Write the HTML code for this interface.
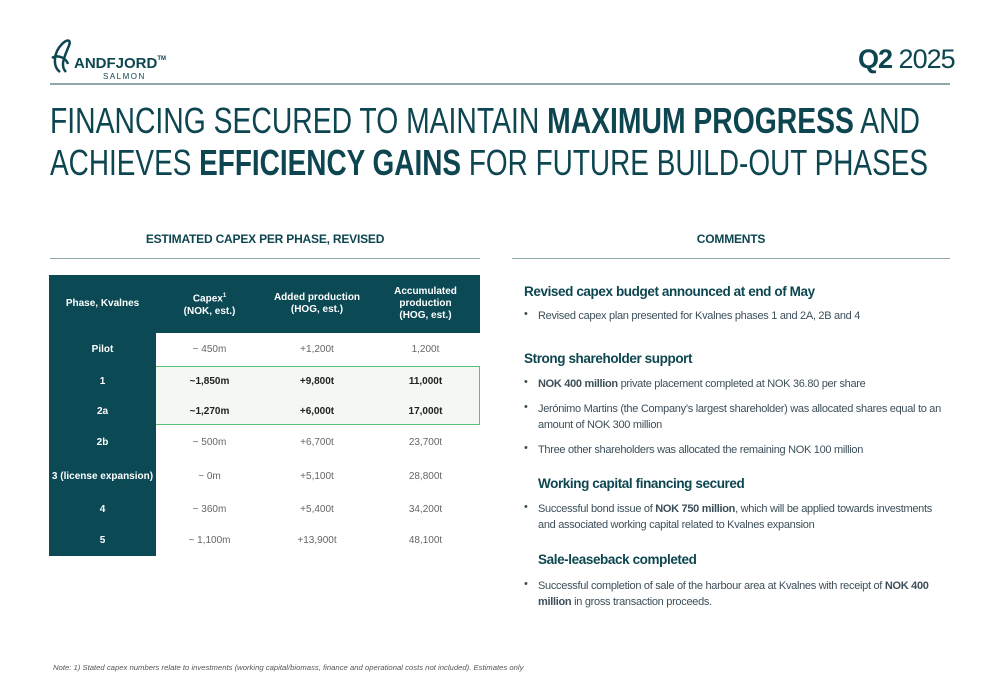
<!DOCTYPE html>
<html><head><meta charset="utf-8"><style>
*{margin:0;padding:0;box-sizing:border-box}
body{width:1000px;height:685px;background:#fff;position:relative;overflow:hidden;font-family:"Liberation Sans",sans-serif;color:#0d4650}
.abs{position:absolute}
.sec{font-weight:bold;font-size:12px;color:#0d4650;text-align:center;letter-spacing:-0.2px}
.c{position:absolute;font-size:11px;color:#3c4f5a;white-space:nowrap;letter-spacing:-0.3px;line-height:16px}
.h{position:absolute;font-size:13.5px;font-weight:bold;color:#0d4650;white-space:nowrap;letter-spacing:-0.4px}
.b{position:absolute;font-size:11px;color:#3c4f5a}
table{border-collapse:collapse;position:absolute;left:49px;top:275px;width:431px;font-size:10px;table-layout:fixed}
td,th{text-align:center;padding:0}
th{background:#0b4955;color:#fff;font-weight:bold;height:58px;font-size:10px;line-height:12px}
td.p{background:#0b4955;color:#fff;font-weight:bold}
td{color:#666}
</style></head><body>
<svg class="abs" style="left:48px;top:36px" width="120" height="45">
<path d="M12 36 C4 30 6 16 14 8 C20 2 24 4 20 12 C16 22 12 30 18 36" stroke="#0d4650" stroke-width="2.5" fill="none"/>
<path d="M4 22 C10 18 18 22 20 28" stroke="#0d4650" stroke-width="2.5" fill="none"/>
<text x="26" y="32" font-family="Liberation Sans" font-weight="bold" font-size="15" fill="#0d4650">ANDFJORD<tspan font-size="6" dy="-8">TM</tspan></text>
<text x="55" y="43" font-family="Liberation Sans" font-size="8" letter-spacing="1.5" fill="#0d4650">SALMON</text>
</svg>
<div class="abs" style="left:858px;top:44px;font-size:27px;color:#0d4650;letter-spacing:-1px"><b>Q2</b> <span style="font-weight:300">2025</span></div>
<div class="abs" style="left:50px;top:83px;width:900px;height:2px;background:#8fa7ad"></div>
<svg class="abs" style="left:0;top:95px" width="1000" height="95">
<text x="50" y="38" textLength="870" lengthAdjust="spacingAndGlyphs" font-family="Liberation Sans" font-size="36" fill="#0d4650">FINANCING SECURED TO MAINTAIN <tspan font-weight="bold">MAXIMUM PROGRESS</tspan> AND</text>
<text x="50" y="80" textLength="878" lengthAdjust="spacingAndGlyphs" font-family="Liberation Sans" font-size="36" fill="#0d4650">ACHIEVES <tspan font-weight="bold">EFFICIENCY GAINS</tspan> FOR FUTURE BUILD-OUT PHASES</text>
</svg>
<div class="abs sec" style="left:50px;top:232px;width:430px">ESTIMATED CAPEX PER PHASE, REVISED</div>
<div class="abs sec" style="left:512px;top:232px;width:438px">COMMENTS</div>
<div class="abs" style="left:50px;top:258px;width:430px;height:1px;background:#8fa7ad"></div>
<div class="abs" style="left:512px;top:258px;width:438px;height:1px;background:#8fa7ad"></div>
<div class="abs" style="left:49px;top:366px;width:431px;height:59px;background:#f4f8f2;border:1px solid #5cbf7a"></div>
<table>
<colgroup><col style="width:107px"><col style="width:107px"><col style="width:108px"><col style="width:109px"></colgroup>
<tr><th>Phase, Kvalnes</th><th>Capex<sup style="font-size:6px">1</sup><br>(NOK, est.)</th><th>Added production<br>(HOG, est.)</th><th>Accumulated<br>production<br>(HOG, est.)</th></tr>
<tr style="height:33px"><td class="p">Pilot</td><td>~ 450m</td><td>+1,200t</td><td>1,200t</td></tr>
<tr style="height:31px"><td class="p">1</td><td style="font-weight:bold;color:#222">~1,850m</td><td style="font-weight:bold;color:#222">+9,800t</td><td style="font-weight:bold;color:#222">11,000t</td></tr>
<tr style="height:28px"><td class="p">2a</td><td style="font-weight:bold;color:#222">~1,270m</td><td style="font-weight:bold;color:#222">+6,000t</td><td style="font-weight:bold;color:#222">17,000t</td></tr>
<tr style="height:35px"><td class="p">2b</td><td>~ 500m</td><td>+6,700t</td><td>23,700t</td></tr>
<tr style="height:33px"><td class="p">3 (license expansion)</td><td>~ 0m</td><td>+5,100t</td><td>28,800t</td></tr>
<tr style="height:32px"><td class="p">4</td><td>~ 360m</td><td>+5,400t</td><td>34,200t</td></tr>
<tr style="height:31px"><td class="p">5</td><td>~ 1,100m</td><td>+13,900t</td><td>48,100t</td></tr>
</table>
<div class="h" style="left:524px;top:284px">Revised capex budget announced at end of May</div>
<div class="b" style="left:524px;top:308px">•</div><div class="c" style="left:538px;top:308px">Revised capex plan presented for Kvalnes phases 1 and 2A, 2B and 4</div>
<div class="h" style="left:524px;top:351px">Strong shareholder support</div>
<div class="b" style="left:524px;top:376px">•</div><div class="c" style="left:538px;top:376px"><b>NOK 400 million</b> private placement completed at NOK 36.80 per share</div>
<div class="b" style="left:524px;top:401px">•</div><div class="c" style="left:538px;top:401px">Jerónimo Martins (the Company’s largest shareholder) was allocated shares equal to an<br>amount of NOK 300 million</div>
<div class="b" style="left:524px;top:442px">•</div><div class="c" style="left:538px;top:442px">Three other shareholders was allocated the remaining NOK 100 million</div>
<div class="h" style="left:538px;top:476px">Working capital financing secured</div>
<div class="b" style="left:524px;top:501px">•</div><div class="c" style="left:538px;top:501px">Successful bond issue of <b>NOK 750 million</b>, which will be applied towards investments<br>and associated working capital related to Kvalnes expansion</div>
<div class="h" style="left:538px;top:552px">Sale-leaseback completed</div>
<div class="b" style="left:524px;top:578px">•</div><div class="c" style="left:538px;top:578px">Successful completion of sale of the harbour area at Kvalnes with receipt of <b>NOK 400</b><br><b>million</b> in gross transaction proceeds.</div>
<div class="abs" style="left:53px;top:663px;font-size:7.7px;font-style:italic;color:#555;white-space:nowrap">Note: 1) Stated capex numbers relate to investments (working capital/biomass, finance and operational costs not included). Estimates only</div>
</body></html>
